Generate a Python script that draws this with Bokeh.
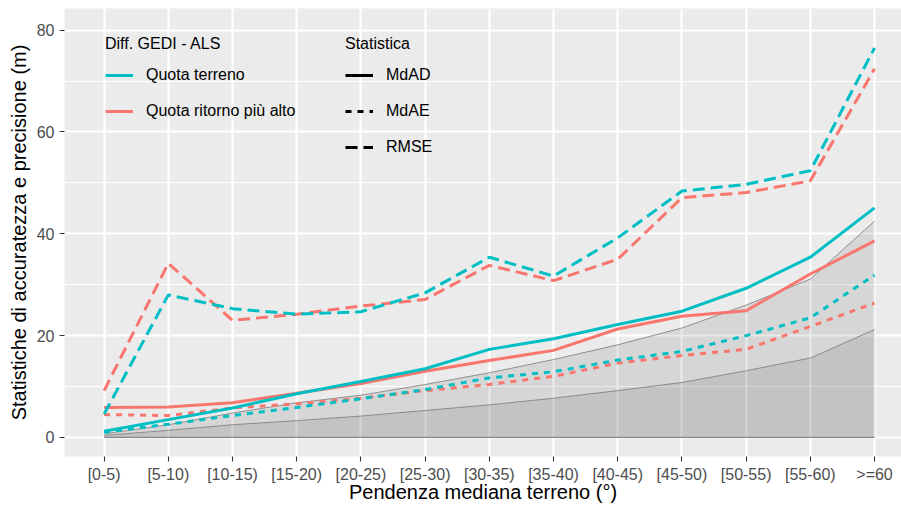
from bokeh.plotting import figure
from bokeh.models import Legend, LegendItem, FixedTicker, Range1d
from bokeh.embed import file_html
from bokeh.resources import INLINE

# ---------------- data ----------------
categories = ["[0-5)", "[5-10)", "[10-15)", "[15-20)", "[20-25)", "[25-30)", "[30-35)",
              "[35-40)", "[40-45)", "[45-50)", "[50-55)", "[55-60)", ">=60"]

terreno_mdad = [1.2, 3.5, 5.8, 8.6, 11.0, 13.5, 17.3, 19.4, 22.2, 24.8, 29.3, 35.4, 45.1]
ritorno_mdad = [5.9, 6.0, 6.8, 8.7, 10.6, 13.0, 15.1, 17.1, 21.3, 23.8, 24.9, 32.1, 38.6]
terreno_mdae = [1.0, 2.6, 4.3, 5.9, 7.6, 9.4, 11.7, 12.9, 15.2, 16.9, 20.0, 23.5, 31.9]
ritorno_mdae = [4.5, 4.3, 5.8, 6.6, 7.7, 9.2, 10.4, 12.0, 14.6, 16.1, 17.3, 21.8, 26.4]
terreno_rmse = [4.6, 28.0, 25.3, 24.2, 24.7, 28.4, 35.4, 31.7, 39.2, 48.4, 49.7, 52.4, 76.5]
ritorno_rmse = [9.2, 34.2, 23.0, 24.2, 25.8, 27.1, 33.8, 30.8, 35.0, 47.1, 48.1, 50.4, 72.4]
rif_alto = [0.7, 2.5, 4.8, 6.8, 8.3, 10.4, 12.7, 15.3, 18.2, 21.5, 26.0, 31.1, 42.5]
rif_basso = [0.4, 1.4, 2.5, 3.3, 4.2, 5.3, 6.4, 7.7, 9.2, 10.8, 13.1, 15.6, 21.2]

y_ticks = [0, 20, 40, 60, 80]
y_minor = [10, 30, 50, 70]

# ---------------- style ----------------
FONT = "Liberation Sans"
CYAN = "#00BFC4"
SALMON = "#F8766D"
LW = 3
DASH_MDAE = "6 6"
DASH_RMSE = "12 6"

x = list(range(1, len(categories) + 1))
zeros = [0 for _ in categories]
nan = float("nan")

p = figure(width=901, height=505, output_backend="svg", toolbar_location=None,
           x_range=Range1d(0.383, 13.42), y_range=Range1d(-3.74, 84.25),
           min_border_left=64, min_border_right=0, min_border_top=8, min_border_bottom=48,
           background_fill_color="#EBEBEB", border_fill_color="white")
p.outline_line_color = None

# axes
p.xaxis.ticker = FixedTicker(ticks=x)
p.xaxis.major_label_overrides = {i: c for i, c in zip(x, categories)}
p.yaxis.ticker = FixedTicker(ticks=y_ticks, minor_ticks=y_minor)
for ax in (p.xaxis[0], p.yaxis[0]):
    ax.axis_line_color = None
    ax.major_tick_out = 5
    ax.major_tick_in = 0
    ax.minor_tick_out = 0
    ax.minor_tick_in = 0
    ax.major_tick_line_color = "#333333"
    ax.major_tick_line_width = 1.1
    ax.major_label_text_font = FONT
    ax.major_label_text_font_size = "16px"
    ax.major_label_text_color = "#4D4D4D"
    ax.axis_label_text_font = FONT
    ax.axis_label_text_font_size = "20px"
    ax.axis_label_text_font_style = "normal"
    ax.axis_label_text_color = "black"

p.xaxis.axis_label = "Pendenza mediana terreno (°)"
p.xaxis.major_label_standoff = 4
p.xaxis.axis_label_standoff = -5
p.yaxis.axis_label = "Statistiche di accuratezza e precisione (m)"
p.yaxis.major_label_standoff = 5
p.yaxis.axis_label_standoff = 4

# grid
p.xgrid.ticker = FixedTicker(ticks=x)
p.ygrid.ticker = FixedTicker(ticks=y_ticks, minor_ticks=y_minor)
for g in (p.xgrid[0], p.ygrid[0]):
    g.grid_line_color = "white"
    g.grid_line_width = 2.2
p.ygrid.minor_grid_line_color = "white"
p.ygrid.minor_grid_line_width = 1.1

# shaded reference areas
p.varea(x=x, y1=zeros, y2=rif_alto, fill_color="black", fill_alpha=0.085)
p.varea(x=x, y1=zeros, y2=rif_basso, fill_color="black", fill_alpha=0.085)
p.line(x=x, y=rif_alto, line_color="#7A7A7A", line_width=1, line_alpha=0.8)
p.line(x=x, y=rif_basso, line_color="#7A7A7A", line_width=1, line_alpha=0.8)
p.line(x=x, y=zeros, line_color="#7A7A7A", line_width=1.3, line_alpha=0.9)

# data lines
r_rit_mdad = p.line(x=x, y=ritorno_mdad, line_color=SALMON, line_width=LW)
p.line(x=x, y=ritorno_mdae, line_color=SALMON, line_width=LW, line_dash=DASH_MDAE)
p.line(x=x, y=ritorno_rmse, line_color=SALMON, line_width=LW, line_dash=DASH_RMSE)
r_ter_mdad = p.line(x=x, y=terreno_mdad, line_color=CYAN, line_width=LW)
p.line(x=x, y=terreno_mdae, line_color=CYAN, line_width=LW, line_dash=DASH_MDAE)
p.line(x=x, y=terreno_rmse, line_color=CYAN, line_width=LW, line_dash=DASH_RMSE)

# legend key renderers (black keys, no visible data)
k_mdad = p.line(x=[nan, nan], y=[nan, nan], line_color="black", line_width=LW)
k_mdae = p.line(x=[nan, nan], y=[nan, nan], line_color="black", line_width=LW, line_dash=DASH_MDAE)
k_rmse = p.line(x=[nan, nan], y=[nan, nan], line_color="black", line_width=LW, line_dash=DASH_RMSE)


def make_legend(title, items, loc):
    lg = Legend(items=items, title=title, location=loc, orientation="vertical")
    lg.background_fill_alpha = 0
    lg.border_line_color = None
    lg.padding = 0
    lg.margin = 0
    lg.spacing = 16
    lg.label_height = 20
    lg.glyph_height = 20
    lg.glyph_width = 28
    lg.label_standoff = 13
    lg.title_standoff = 12
    lg.label_text_font = FONT
    lg.label_text_font_size = "16px"
    lg.label_text_color = "black"
    lg.title_text_font = FONT
    lg.title_text_font_size = "16px"
    lg.title_text_font_style = "normal"
    lg.title_text_color = "black"
    return lg


leg1 = make_legend("Diff. GEDI - ALS",
                   [LegendItem(label="Quota terreno", renderers=[r_ter_mdad]),
                    LegendItem(label="Quota ritorno più alto", renderers=[r_rit_mdad])],
                   (41, 335))
leg2 = make_legend("Statistica",
                   [LegendItem(label="MdAD", renderers=[k_mdad]),
                    LegendItem(label="MdAE", renderers=[k_mdae]),
                    LegendItem(label="RMSE", renderers=[k_rmse])],
                   (281, 299))
p.add_layout(leg1, "center")
p.add_layout(leg2, "center")

open("out.html", "w").write(file_html(p, INLINE))
